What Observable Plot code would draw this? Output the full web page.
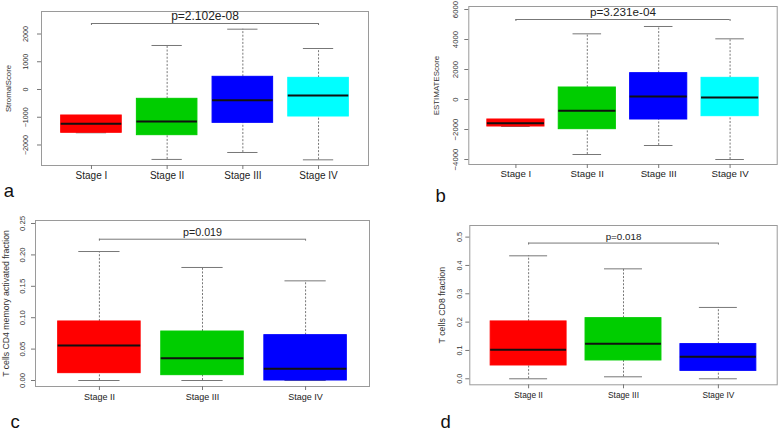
<!DOCTYPE html>
<html><head><meta charset="utf-8">
<script src="https://cdn.jsdelivr.net/npm/d3@7"></script>
<script src="https://cdn.jsdelivr.net/npm/@observablehq/plot@0.6"></script>
<style>
body{margin:0;background:#fff;}
#root{position:relative;width:778px;height:432px;overflow:hidden;background:#fff;}
#root svg{position:absolute;overflow:visible;background:transparent;max-width:none;}
</style></head><body><div id="root"></div>
<script>
// categories
const stagesAB = ["Stage I", "Stage II", "Stage III", "Stage IV"];
const stagesCD = ["Stage II", "Stage III", "Stage IV"];
const colorsAB = ["#FF0000", "#00CD00", "#0000FF", "#00FFFF"];
const colorsCD = ["#FF0000", "#00CD00", "#0000FF"];

// a: StromalScore
const stromalLow = [-1560, -2520, -2270, -2535];
const stromalQ1 = [-1560, -1646, -1201, -973];
const stromalMedian = [-1237, -1153, -384, -216];
const stromalQ3 = [-937, -336, 457, 420];
const stromalHigh = [-937, 1586, 2174, 1477];
const stromalTicks = [-2000, -1000, 0, 1000, 2000];
const stromalP = "p=2.102e-08";
const stromalBracket = 2378;

// b: ESTIMATEScore
const estimateLow = [-1800, -3667, -3067, -4000];
const estimateQ1 = [-1800, -1978, -1333, -1111];
const estimateMedian = [-1578, -756, 200, 133];
const estimateQ3 = [-1333, 800, 1756, 1444];
const estimateHigh = [-1333, 4378, 4867, 4044];
const estimateTicks = [-4000, -2000, 0, 2000, 4000, 6000];
const estimateP = "p=3.231e-04";
const estimateBracket = 5333;

// c: T cells CD4 memory activated fraction
const cd4Low = [0, 0, 0];
const cd4Q1 = [0.0117, 0.0085, 0.0];
const cd4Median = [0.0557, 0.0356, 0.0186];
const cd4Q3 = [0.094, 0.078, 0.0722];
const cd4High = [0.2054, 0.18, 0.1587];
const cd4Ticks = [0, 0.05, 0.10, 0.15, 0.20, 0.25];
const cd4P = "p=0.019";
const cd4Bracket = 0.225;

// d: T cells CD8 fraction
const cd8Low = [0, 0.007, 0];
const cd8Q1 = [0.047, 0.0647, 0.028];
const cd8Median = [0.1024, 0.1235, 0.0776];
const cd8Q3 = [0.2024, 0.214, 0.1224];
const cd8High = [0.434, 0.388, 0.2518];
const cd8Ticks = [0, 0.1, 0.2, 0.3, 0.4, 0.5];
const cd8P = "p=0.018";
const cd8Bracket = 0.479;

const FONT = '"Liberation Sans", Arial, Helvetica, sans-serif';

function panel(o) {
  const n = o.stages.length;
  const rows = o.stages.map((s, k) => ({
    i: k + 1, stage: s, lo: o.lo[k], q1: o.q1[k], med: o.med[k], q3: o.q3[k], hi: o.hi[k]
  }));
  const innerH = o.height - o.mt - o.mb;
  const perPx = (o.yDomain[1] - o.yDomain[0]) / innerH;
  const svg = Plot.plot({
    width: o.width, height: o.height,
    marginLeft: o.ml, marginRight: o.mr, marginTop: o.mt, marginBottom: o.mb,
    style: {fontFamily: FONT, color: "#222", background: "transparent"},
    x: {type: "linear", domain: [0.5 - 0.04 * n, n + 0.5 + 0.04 * n]},
    y: {domain: o.yDomain},
    color: {type: "ordinal", domain: o.stages, range: o.colors},
    marks: [
      Plot.ruleX(rows, {x: "i", y1: "q3", y2: "hi", stroke: "#555", strokeWidth: 0.8, strokeDasharray: "2,1.6"}),
      Plot.ruleX(rows, {x: "i", y1: "lo", y2: "q1", stroke: "#555", strokeWidth: 0.8, strokeDasharray: "2,1.6"}),
      Plot.ruleY(rows, {y: "hi", x1: d => d.i - 0.2, x2: d => d.i + 0.2, stroke: "#777", strokeWidth: 1}),
      Plot.ruleY(rows, {y: "lo", x1: d => d.i - 0.2, x2: d => d.i + 0.2, stroke: "#777", strokeWidth: 1}),
      Plot.rect(rows, {x1: d => d.i - 0.4, x2: d => d.i + 0.4, y1: "q1", y2: "q3", fill: "stage", stroke: "stage", strokeWidth: 1}),
      Plot.ruleY(rows, {y: "med", x1: d => d.i - 0.4, x2: d => d.i + 0.4, stroke: "#111", strokeWidth: 2}),
      Plot.frame({stroke: "#9a9a9a", strokeWidth: 1}),
      Plot.axisX({ticks: d3.range(1, n + 1), tickFormat: i => o.stages[i - 1], tickSize: 4, tickPadding: o.xPad,
        fontSize: o.xFs, stroke: "#777", fill: "#222", label: null}),
      Plot.axisY({ticks: o.yTicks, tickFormat: o.yFmt, tickRotate: -90, tickSize: 4, tickPadding: o.yPad,
        fontSize: o.yFs, stroke: "#777", fill: "#333", label: null}),
      Plot.ruleY([o.bracket], {y: d => d, x1: 1, x2: n, stroke: "#777", strokeWidth: 1}),
      Plot.ruleX([1, n], {x: d => d, y1: o.bracket, y2: o.bracket - 2 * perPx, stroke: "#777", strokeWidth: 1}),
      Plot.text([o.p], {x: (1 + n) / 2, y: o.bracket, text: d => d, dy: -3.4, lineAnchor: "bottom", fontSize: o.pFs, fill: "#222"}),
      Plot.text([o.title], {frameAnchor: "left", text: d => d, rotate: -90, dx: o.titleDx, textAnchor: "middle",
        lineAnchor: "middle", fontSize: o.titleFs, fill: "#333"}),
      Plot.text([o.letter], {frameAnchor: "bottom-left", text: d => d, dx: o.letterDx, dy: o.letterDy,
        textAnchor: "start", lineAnchor: "bottom", fontSize: 18.5, fill: "#111"})
    ]
  });
  svg.style.left = o.left + "px";
  svg.style.top = o.top + "px";
  document.getElementById("root").appendChild(svg);
}

panel({
  left: 0, top: 0, width: 389, height: 216, ml: 41, mr: 21, mt: 11, mb: 51,
  stages: stagesAB, colors: colorsAB,
  lo: stromalLow, q1: stromalQ1, med: stromalMedian, q3: stromalQ3, hi: stromalHigh,
  yDomain: [-2739, 2811], yTicks: stromalTicks, yFmt: d3.format("d"),
  p: stromalP, bracket: stromalBracket, title: "StromalScore", letter: "a",
  xPad: 2.4, xFs: 10, yPad: 9.3, yFs: 7.2, pFs: 12, titleFs: 7.8, titleDx: -33,
  letterDx: -37.7, letterDy: 31
});

panel({
  left: 389, top: 0, width: 389, height: 216, ml: 79.3, mr: 1.3, mt: 6, mb: 52,
  stages: stagesAB, colors: colorsAB,
  lo: estimateLow, q1: estimateQ1, med: estimateMedian, q3: estimateQ3, hi: estimateHigh,
  yDomain: [-4333, 6200], yTicks: estimateTicks, yFmt: d3.format("d"),
  p: estimateP, bracket: estimateBracket, title: "ESTIMATEScore", letter: "b",
  xPad: 1.8, xFs: 9.7, yPad: 6.6, yFs: 7.8, pFs: 11.7, titleFs: 7.9, titleDx: -32,
  letterDx: -33.3, letterDy: 37
});

panel({
  left: 0, top: 216, width: 389, height: 216, ml: 35, mr: 20, mt: 4, mb: 46,
  stages: stagesCD, colors: colorsCD,
  lo: cd4Low, q1: cd4Q1, med: cd4Median, q3: cd4Q3, hi: cd4High,
  yDomain: [-0.00955, 0.2548], yTicks: cd4Ticks, yFmt: d3.format(".2f"),
  p: cd4P, bracket: cd4Bracket, title: "T cells CD4 memory activated fraction", letter: "c",
  xPad: 3.5, xFs: 9, yPad: 6.3, yFs: 7.7, pFs: 10.7, titleFs: 8.7, titleDx: -29.5,
  letterDx: -25, letterDy: 41.5
});

panel({
  left: 389, top: 216, width: 389, height: 216, ml: 80.3, mr: 1.3, mt: 9, mb: 47.7,
  stages: stagesCD, colors: colorsCD,
  lo: cd8Low, q1: cd8Q1, med: cd8Median, q3: cd8Q3, hi: cd8High,
  yDomain: [-0.0212, 0.541], yTicks: cd8Ticks, yFmt: d3.format(".1f"),
  p: cd8P, bracket: cd8Bracket, title: "T cells CD8 fraction", letter: "d",
  xPad: 3.7, xFs: 8.3, yPad: 3.9, yFs: 7.2, pFs: 9.8, titleFs: 8.8, titleDx: -27.6,
  letterDx: -29.3, letterDy: 43.5
});
</script>
</body></html>
